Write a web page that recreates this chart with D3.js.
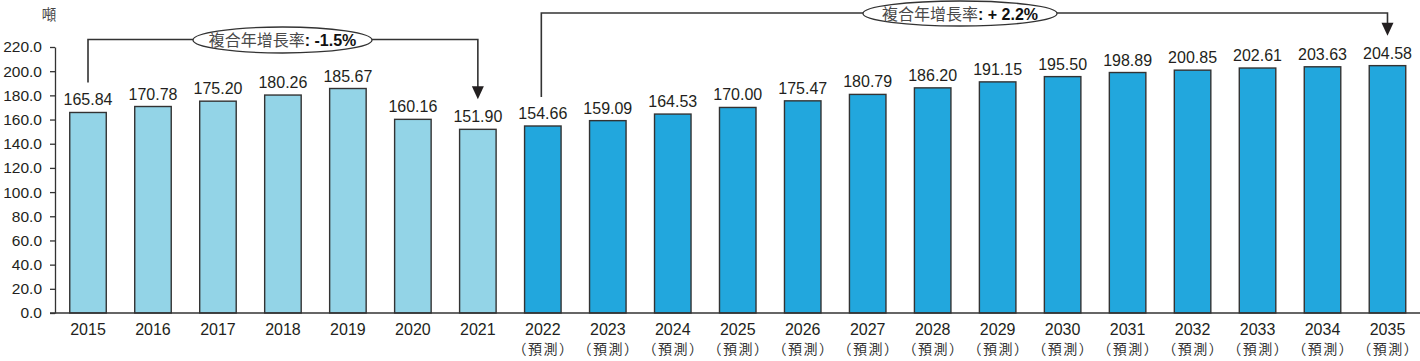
<!DOCTYPE html>
<html><head><meta charset="utf-8">
<script src="https://cdn.jsdelivr.net/npm/d3@7"></script>
<style>
html,body{margin:0;padding:0;background:#fff;}
svg{display:block;font-family:"Liberation Sans",Arial,sans-serif;}
</style></head>
<body><svg id="chart" width="1420" height="361"></svg>
<script>
const years = ["2015","2016","2017","2018","2019","2020","2021","2022","2023","2024","2025","2026","2027","2028","2029","2030","2031","2032","2033","2034","2035"];
const values = [165.84,170.78,175.20,180.26,185.67,160.16,151.90,154.66,159.09,164.53,170.00,175.47,180.79,186.20,191.15,195.50,198.89,200.85,202.61,203.63,204.58];
const forecastFrom = "2022";
const yTicks = [0,20,40,60,80,100,120,140,160,180,200,220];
const unitLabel = "噸";
const forecastLabel = "（預測）";
const cagrLabel = "複合年增長率";
const cagrHist = "-1.5%";
const cagrFcst = "+ 2.2%";

const svg = d3.select("#chart");
const x = d3.scaleBand().domain(years).range([55, 1420.5]).paddingInner(0.438).paddingOuter(0.227);
const y = d3.scaleLinear().domain([0, 220]).range([313, 47]);
const isF = d => +d >= +forecastFrom;
const cx = d => x(d) + x.bandwidth() / 2;

// unit
svg.append("text").attr("x", 49).attr("y", 19.5).attr("text-anchor", "middle")
  .attr("font-family", "Noto Sans CJK TC").attr("font-size", 14.5).attr("fill", "#444").text(unitLabel);

// y axis
const ya = svg.append("g").attr("transform", "translate(55,0)")
  .call(d3.axisLeft(y).tickValues(yTicks).tickFormat(d3.format(".1f")).tickSize(5).tickSizeOuter(0).tickPadding(8));
ya.select(".domain").attr("stroke", "#333").attr("stroke-width", 1.3);
ya.selectAll(".tick line").attr("stroke", "#333").attr("stroke-width", 1.3);
ya.selectAll("text").attr("font-size", 15.5).attr("fill", "#231f20").attr("font-family", "Liberation Sans");

// bars
svg.append("g").selectAll("rect").data(years).join("rect")
  .attr("x", d => x(d)).attr("width", x.bandwidth())
  .attr("y", (d, i) => y(values[i])).attr("height", (d, i) => y(0) - y(values[i]))
  .attr("fill", d => isF(d) ? "#22a7dd" : "#93d4e7")
  .attr("stroke", "#333").attr("stroke-width", 1.4);

// x axis line
svg.append("line").attr("x1", 50).attr("x2", 1420).attr("y1", y(0)).attr("y2", y(0))
  .attr("stroke", "#333").attr("stroke-width", 1.5);

// value labels
svg.append("g").selectAll("text").data(years).join("text")
  .attr("x", d => cx(d)).attr("y", (d, i) => y(values[i]) - 7)
  .attr("text-anchor", "middle").attr("font-size", 16).attr("fill", "#231f20")
  .text((d, i) => values[i].toFixed(2));

// x labels
const xl = svg.append("g").selectAll("g").data(years).join("g");
xl.append("text").attr("x", d => cx(d)).attr("y", 335).attr("text-anchor", "middle")
  .attr("font-size", 16).attr("fill", "#231f20").text(d => d);
xl.filter(isF).append("text").attr("x", d => cx(d) + 0.75).attr("y", 354).attr("text-anchor", "middle")
  .attr("font-family", "Noto Sans CJK TC").attr("font-size", 14).attr("letter-spacing", 1.5)
  .attr("fill", "#333").text(forecastLabel);

// annotations
function bracket(x1, yStart, x2, yTip, yTop, ex, ey, rx, ry, pct) {
  const g = svg.append("g");
  g.append("path").attr("d", `M${x1},${yStart}V${yTop}H${x2}V${yTip - 12}`)
    .attr("fill", "none").attr("stroke", "#333").attr("stroke-width", 1.6);
  g.append("path").attr("d", `M${x2 - 6},${yTip - 13}L${x2 + 6},${yTip - 13}L${x2},${yTip}Z`).attr("fill", "#231f20");
  g.append("ellipse").attr("cx", ex).attr("cy", ey).attr("rx", rx).attr("ry", ry)
    .attr("fill", "#fff").attr("stroke", "#333").attr("stroke-width", 1.3);
  const t = g.append("text").attr("x", ex).attr("y", ey + 6).attr("text-anchor", "middle").attr("font-size", 16);
  t.append("tspan").attr("font-family", "Noto Sans CJK TC").attr("fill", "#4a4a4a").text(cagrLabel);
  t.append("tspan").attr("font-weight", "bold").attr("fill", "#111").attr("font-family", "Liberation Sans").text(": " + pct);
}
bracket(cx("2015"), y(values[0]) - 30, cx("2021"), y(values[6]) - 30, 39.5, 282.5, 40, 89.5, 13, cagrHist);
bracket(cx("2022") - 1.5, y(values[7]) - 29, cx("2035"), y(values[20]) - 30, 13, 960, 13.5, 97, 12.5, cagrFcst);
</script></body></html>
